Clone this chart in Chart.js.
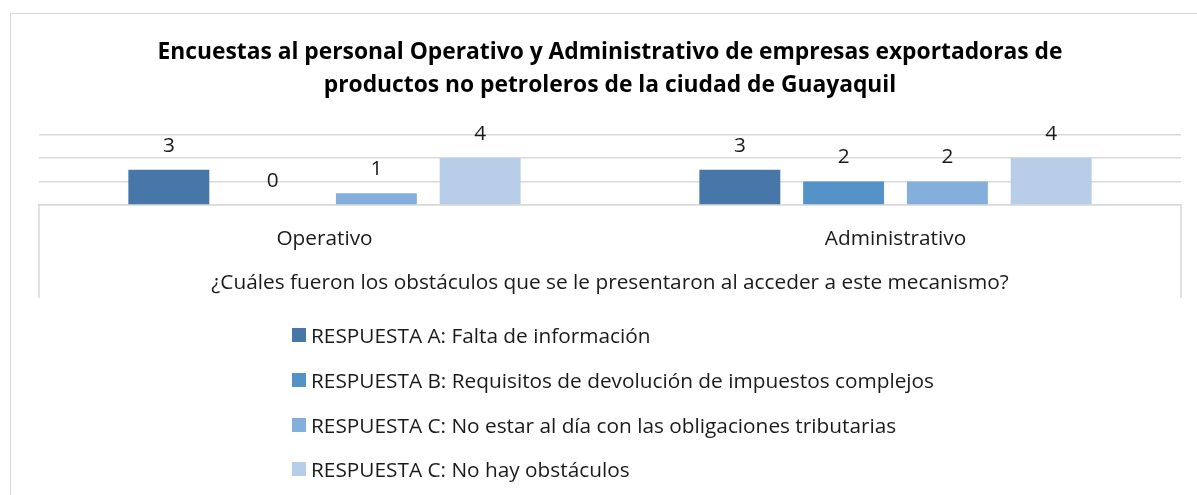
<!DOCTYPE html>
<html>
<head>
<meta charset="utf-8">
<script src="https://cdn.jsdelivr.net/npm/chart.js@4.4.1/dist/chart.umd.min.js"></script>
<style>
  html, body { margin: 0; padding: 0; background: #fff; }
  #wrap { position: relative; width: 1197px; height: 495px; overflow: hidden; background: #fff; }
  #frame { position: absolute; left: 10px; top: 13px; width: 1300px; height: 600px; border: 1.5px solid #d9d9d9; box-sizing: border-box; }
  #c { position: absolute; left: 0; top: 0; }
  #legend { position: absolute; left: 292px; top: 313px; font-family: "Open Sans", sans-serif; font-size: 20.8px; color: #1a1a1a; }
  .row { height: 44.7px; display: flex; align-items: center; }
  .sw { width: 14px; height: 14px; margin-right: 5px; flex: none; }
</style>
</head>
<body>
<div id="wrap">
  <div id="frame"></div>
  <canvas id="c" width="1197" height="495"></canvas>
  <div id="legend"></div>
</div>
<script>
const titleLines = ["Encuestas al personal Operativo y Administrativo de empresas exportadoras de", "productos no petroleros de la ciudad de Guayaquil"];
const categories = ["Operativo", "Administrativo"];
const axisTitle = "¿Cuáles fueron los obstáculos que se le presentaron al acceder a este mecanismo?";
const seriesNames = [
  "RESPUESTA A: Falta de información",
  "RESPUESTA B: Requisitos de devolución de impuestos complejos",
  "RESPUESTA C: No estar al día con las obligaciones tributarias",
  "RESPUESTA C: No hay obstáculos"
];
const respuestaA = [3, 3];
const respuestaB = [0, 2];
const respuestaC = [1, 2];
const respuestaD = [4, 4];
const seriesColors = ["#4677a8", "#5592c8", "#84aedb", "#b8cde8"];
const yMax = 6;
const yStep = 2;

const FONT = "'Open Sans', sans-serif";
const TXT = 20.8;
const seriesValues = [respuestaA, respuestaB, respuestaC, respuestaD];

const valueLabels = {
  id: 'valueLabels',
  afterDatasetsDraw(chart) {
    const ctx = chart.ctx;
    ctx.save();
    ctx.font = TXT + "px " + FONT;
    ctx.fillStyle = "#1a1a1a";
    ctx.textAlign = "center";
    ctx.textBaseline = "middle";
    chart.data.datasets.forEach((ds, i) => {
      const meta = chart.getDatasetMeta(i);
      meta.data.forEach((el, j) => {
        ctx.fillText(String(ds.data[j]), el.x, el.y - 24);
      });
    });
    ctx.restore();
  }
};

const axisFrame = {
  id: 'axisFrame',
  afterDraw(chart) {
    const x = chart.scales.x;
    const ctx = chart.ctx;
    ctx.save();
    ctx.strokeStyle = "#d9d9d9";
    ctx.lineWidth = 1.5;
    ctx.beginPath();
    ctx.moveTo(x.left, chart.chartArea.bottom);
    ctx.lineTo(x.left, x.bottom);
    ctx.moveTo(x.right, chart.chartArea.bottom);
    ctx.lineTo(x.right, x.bottom);
    ctx.stroke();
    ctx.restore();
  }
};

new Chart(document.getElementById('c'), {
  type: 'bar',
  data: {
    labels: categories,
    datasets: seriesValues.map((vals, i) => ({
      label: seriesNames[i],
      data: vals,
      backgroundColor: seriesColors[i],
      categoryPercentage: 0.727,
      barPercentage: 0.78
    }))
  },
  options: {
    responsive: false,
    animation: false,
    layout: { padding: { left: 39, right: 16, top: 0, bottom: 197 } },
    plugins: {
      legend: { display: false },
      tooltip: { enabled: false },
      title: {
        display: true,
        text: titleLines,
        color: "#000",
        font: { family: FONT, size: 22.8, weight: 'bold', lineHeight: 1.447 },
        padding: { top: 36.5, bottom: 32 }
      }
    },
    scales: {
      x: {
        grid: { display: false, drawTicks: false },
        border: { display: true, color: "#d9d9d9", width: 1.5 },
        ticks: { color: "#1a1a1a", font: { family: FONT, size: TXT, lineHeight: 1.2 }, padding: 21.5 },
        title: { display: true, text: axisTitle, color: "#1a1a1a", font: { family: FONT, size: TXT, lineHeight: 1.0 }, padding: { top: 0, bottom: 4.2 } }
      },
      y: {
        min: 0, max: yMax,
        ticks: { display: false, stepSize: yStep },
        grid: { color: "#d9d9d9", lineWidth: 1.5, drawTicks: false },
        border: { display: false }
      }
    }
  },
  plugins: [valueLabels, axisFrame]
});

const leg = document.getElementById('legend');
seriesNames.forEach((n, i) => {
  const r = document.createElement('div');
  r.className = 'row';
  const s = document.createElement('span');
  s.className = 'sw';
  s.style.background = seriesColors[i];
  const t = document.createElement('span');
  t.textContent = n;
  r.appendChild(s); r.appendChild(t);
  leg.appendChild(r);
});
</script>
</body>
</html>
